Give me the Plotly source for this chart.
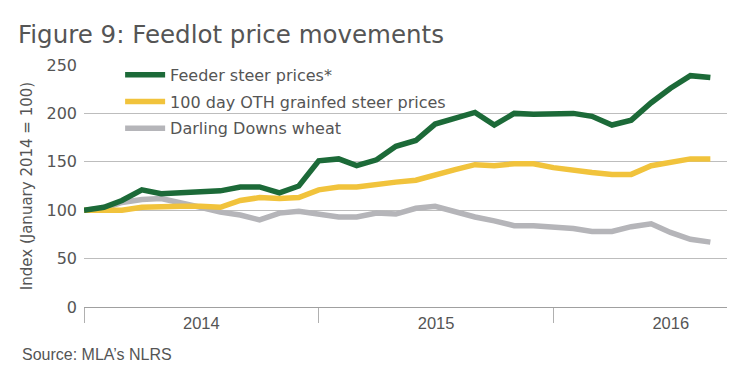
import pandas as pd
import plotly.graph_objects as go

months = pd.date_range("2014-01-01", "2016-09-01", freq="MS")

feeder_steer = [100, 103, 110, 121, 117, 118, 118, 120, 124, 124, 118, 125,
                151, 153, 146, 152, 166, 172, 189, 195, 201, 188, 200, 199,
                199, 200, 197, 188, 193, 211, 226, 239, 237]
oth_grainfed = [100, 100, 100, 103, 104, 104, 104, 103, 110, 113, 112, 113,
                121, 124, 124, 127, 129, 131, 137, 142, 147, 146, 148, 148,
                144, 141, 139, 137, 137, 146, 150, 153, 153]
dd_wheat = [100, 102, 108, 111, 112, 108, 103, 98, 95, 90, 97, 99,
            96, 93, 93, 97, 96, 102, 104, 98, 93, 89, 84, 84,
            83, 81, 78, 78, 83, 86, 77, 70, 67]

series_names = ["Feeder steer prices*", "100 day OTH grainfed steer prices", "Darling Downs wheat"]
series_colors = ["#1c6a38", "#f1c33c", "#b5b5b9"]

fig = go.Figure()
for vals, name, color, rank in [
    (dd_wheat, series_names[2], series_colors[2], 3),
    (oth_grainfed, series_names[1], series_colors[1], 2),
    (feeder_steer, series_names[0], series_colors[0], 1),
]:
    fig.add_trace(go.Scatter(
        x=months, y=vals, mode="lines", name=name,
        line=dict(color=color, width=5.5, shape="linear"),
        legendrank=rank, legendgroup=name,
    ))

txt = "#555555"
sans = "DejaVu Sans, Liberation Sans, sans-serif"
helv = "Liberation Sans, Arial, sans-serif"
# page body has an 8px margin, so the figure is sized/offset to compensate
W, H = 727, 363
fig.update_layout(
    width=W, height=H,
    margin=dict(l=76, r=6, t=57, b=64, autoexpand=False),
    paper_bgcolor="white", plot_bgcolor="white",
    font=dict(family=helv, color=txt, size=15),
    title=dict(text="Figure 9: Feedlot price movements", x=10/W, xref="container",
               xanchor="left", y=1-26/H, yref="container", yanchor="middle",
               pad=dict(l=0, r=0, t=0, b=0),
               font=dict(family=sans, size=24.5, color=txt)),
    showlegend=True,
    legend=dict(x=0.056, y=1.03, xanchor="left", yanchor="top",
                bgcolor="rgba(0,0,0,0)", font=dict(family=sans, size=16, color=txt),
                tracegroupgap=3, itemwidth=40),
    xaxis=dict(
        type="date", range=["2014-01-01", "2016-09-30"],
        ticklabelmode="period", dtick="M12", tick0="2014-01-01",
        tickformat="%Y",
        ticks="outside", ticklen=15, tickcolor="#b0b0b0", tickwidth=1,
        showline=True, linecolor="#a0a0a0", linewidth=1,
        showgrid=False, zeroline=False, automargin=False,
        tickfont=dict(family=helv, size=16.5, color=txt),
        ticklabelstandoff=-14,
    ),
    yaxis=dict(
        range=[0, 250], tickvals=[0, 50, 100, 150, 200, 250],
        showgrid=True, gridcolor="#bdbdbd", gridwidth=1,
        zeroline=False, showline=False, ticks="", automargin=False,
        tickfont=dict(family=sans, size=16, color=txt),
        ticklabelstandoff=6,
        title=dict(text="Index (January 2014 = 100)", font=dict(family=sans, size=15, color=txt), standoff=10),
    ),
)

fig.add_annotation(
    text="Source: MLA\u2019s NLRS", xref="paper", yref="paper",
    x=(20-84)/645, y=(307-354)/242, xanchor="left", yanchor="middle",
    showarrow=False,
    font=dict(family=helv, size=16, color=txt),
)

fig.write_html("out.html")
